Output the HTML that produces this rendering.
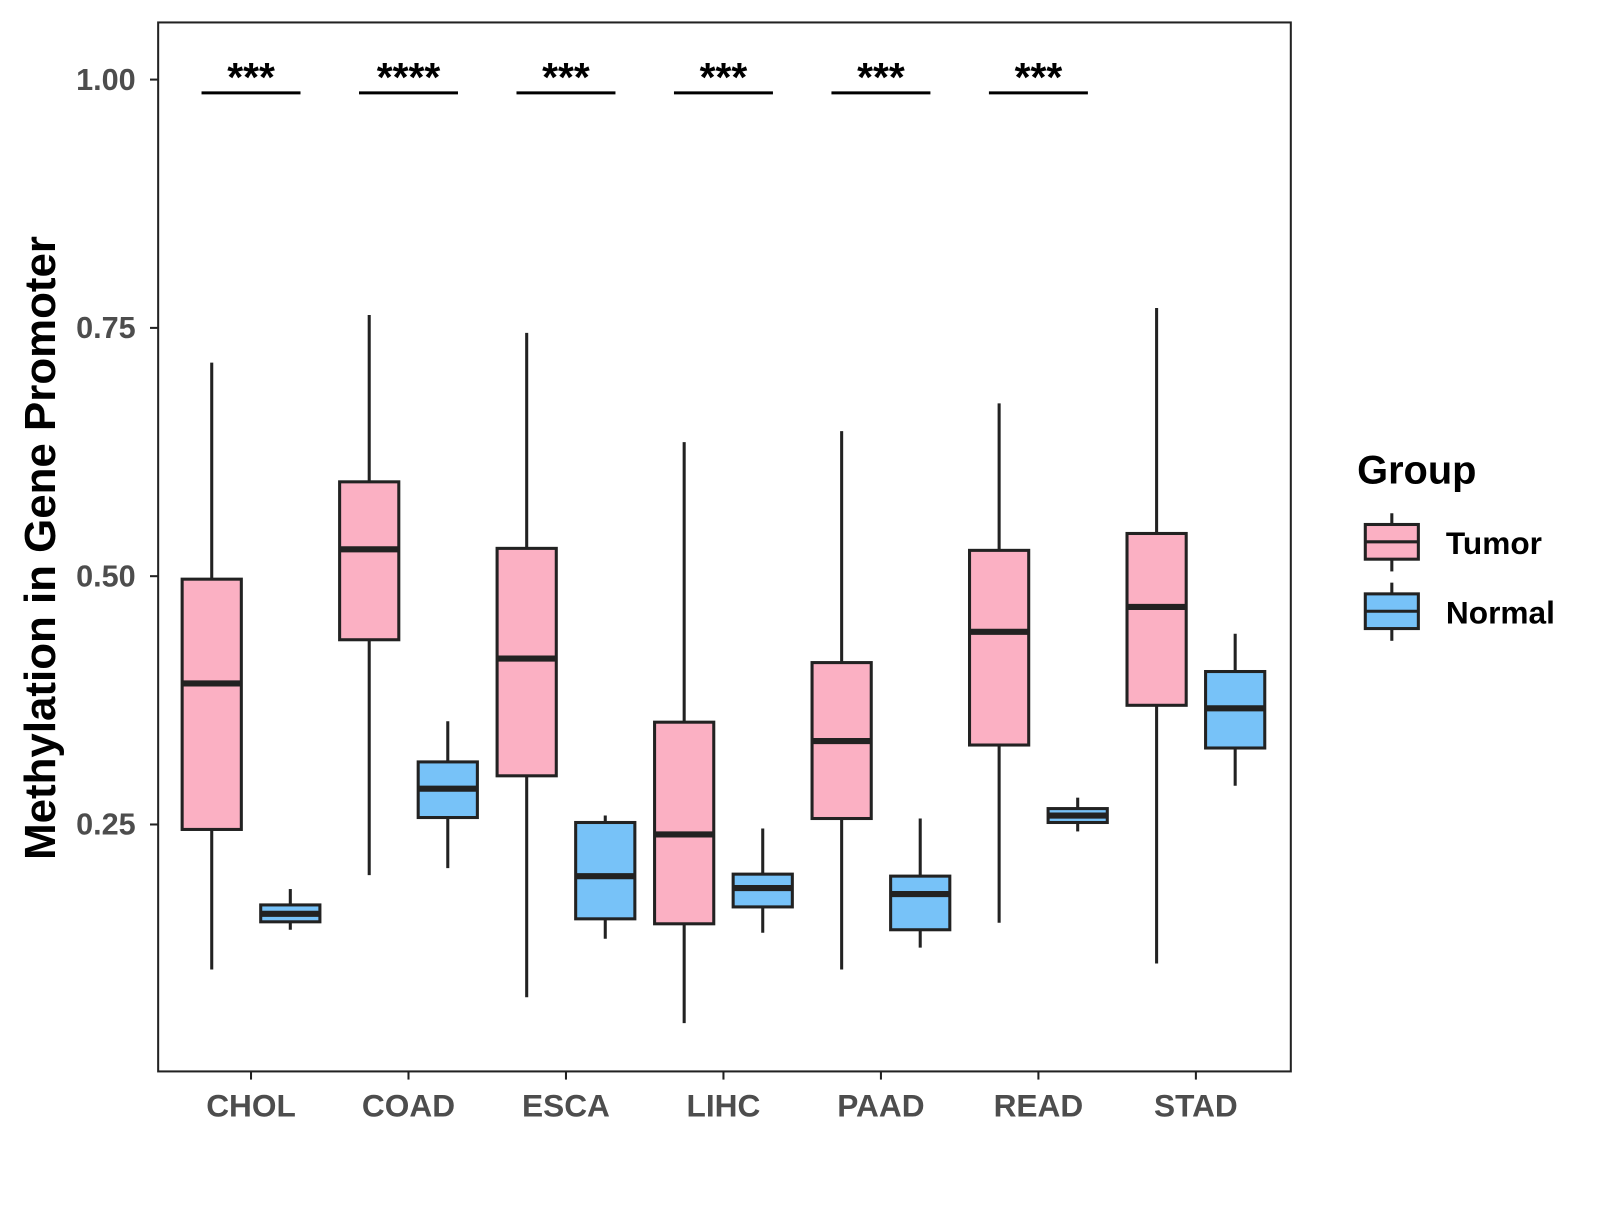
<!DOCTYPE html>
<html><head><meta charset="utf-8"><style>
body{margin:0;background:#fff;}
svg text{font-family:"Liberation Sans",Arial,sans-serif;font-weight:bold;}
</style></head><body>
<svg id="chart" width="1600" height="1200" xmlns="http://www.w3.org/2000/svg">
<g transform="scale(1.0204)">
<rect x="155" y="22" width="1110" height="1028" fill="#fff" stroke="#222" stroke-width="2"/>
<g id="marks"></g>
<text transform="translate(54,537) rotate(-90)" text-anchor="middle" font-size="43" fill="#000">Methylation in Gene Promoter</text>
<g>
<text x="1330" y="474" font-size="39" fill="#000">Group</text>
<g>
<line x1="1364" y1="503" x2="1364" y2="560" stroke="#222" stroke-width="3"/>
<rect x="1338" y="514" width="52" height="34" fill="#fbb0c3" stroke="#222" stroke-width="3"/>
<line x1="1338" y1="531" x2="1390" y2="531" stroke="#222" stroke-width="3"/>
<text x="1417" y="543" font-size="31" fill="#000">Tumor</text></g>
<g>
<line x1="1364" y1="571" x2="1364" y2="628" stroke="#222" stroke-width="3"/>
<rect x="1338" y="582" width="52" height="34" fill="#77c2f8" stroke="#222" stroke-width="3"/>
<line x1="1338" y1="599" x2="1390" y2="599" stroke="#222" stroke-width="3"/>
<text x="1417" y="611" font-size="31" fill="#000">Normal</text></g>
</g>
</g>
</svg>
<script>
const categories=["CHOL","COAD","ESCA","LIHC","PAAD","READ","STAD"];
// [whiskerLow, q1, median, q3, whiskerHigh]
const tumorStats=[[0.104,0.245,0.392,0.497,0.715],[0.199,0.436,0.527,0.595,0.763],[0.076,0.299,0.417,0.528,0.745],[0.050,0.150,0.240,0.353,0.635],[0.104,0.256,0.334,0.413,0.646],[0.151,0.330,0.444,0.526,0.674],[0.110,0.370,0.469,0.543,0.770]];
const normalStats=[[0.144,0.152,0.160,0.169,0.185],[0.206,0.257,0.286,0.313,0.354],[0.135,0.155,0.198,0.252,0.259],[0.141,0.167,0.186,0.200,0.246],[0.126,0.144,0.180,0.198,0.256],[0.243,0.252,0.259,0.266,0.277],[0.289,0.327,0.367,0.404,0.442]];
const significance=["***","****","***","***","***","***",""];
const yTicks=[0.25,0.50,0.75,1.00];
const yTickLabels=["0.25","0.50","0.75","1.00"];

const NS="http://www.w3.org/2000/svg";
const g=document.getElementById('marks');
const y=v=>78+(1-v)*973.33;
const xc=i=>246+i*154.33;
function mk(tag,attrs,parent){const e=document.createElementNS(NS,tag);for(const k in attrs)e.setAttribute(k,attrs[k]);(parent||g).appendChild(e);return e;}
yTicks.forEach((t,i)=>{
  const tk=mk('line',{x1:147,x2:155,y1:y(t),y2:y(t),stroke:'#222','stroke-width':2});
  
  
  const tx=mk('text',{x:133,y:y(t)+10,'text-anchor':'end','font-size':30,fill:'#4d4d4d'});
  tx.textContent=yTickLabels[i];
  
  
});
function box(cx,s,fill,name){
  const bg=mk('g',{});
  
  
  mk('line',{x1:cx,x2:cx,y1:y(s[0]),y2:y(s[4]),stroke:'#222','stroke-width':3},bg);
  mk('rect',{x:cx-29,y:y(s[3]),width:58,height:y(s[1])-y(s[3]),fill:fill,stroke:'#222','stroke-width':3},bg);
  mk('line',{x1:cx-29,x2:cx+29,y1:y(s[2]),y2:y(s[2]),stroke:'#222','stroke-width':6},bg);
}
categories.forEach((c,i)=>{
  const cx=xc(i);
  box(cx-38.5,tumorStats[i],'#fbb0c3','box-tumor-'+c.toLowerCase());
  box(cx+38.5,normalStats[i],'#77c2f8','box-normal-'+c.toLowerCase());
  const tk=mk('line',{x1:cx,x2:cx,y1:1050,y2:1058,stroke:'#222','stroke-width':2});
  
  
  const tx=mk('text',{x:cx,y:1094,'text-anchor':'middle','font-size':31,fill:'#4d4d4d'});
  tx.textContent=c;
  
  
  if(significance[i]){
    const sl=mk('line',{x1:cx-48.5,x2:cx+48.5,y1:91,y2:91,stroke:'#000','stroke-width':3});
    
    
    const st=mk('text',{x:cx,y:89,'text-anchor':'middle','font-size':40,fill:'#000'});
    st.textContent=significance[i];
    
    
  }
});
</script>
</body></html>
